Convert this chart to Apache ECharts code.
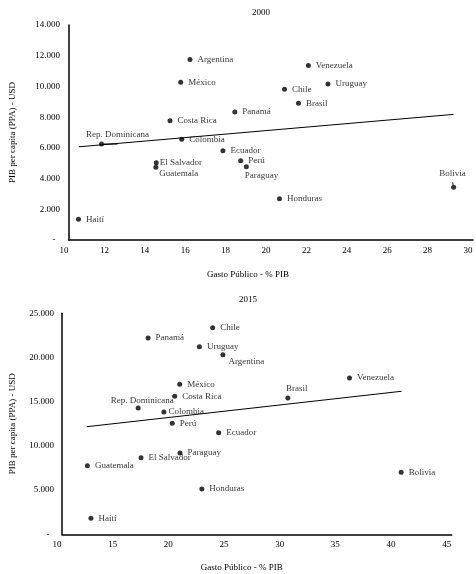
<!DOCTYPE html>
<html><head><meta charset="utf-8">
<script src="https://cdn.jsdelivr.net/npm/echarts@6/dist/echarts.min.js"></script>
<style>html,body{margin:0;padding:0;background:#fff}#c{width:476px;height:574px}</style>
</head><body><div id="c"></div>
<script>
// ---- data ----
const countries2000 = ['Argentina','México','Costa Rica','Rep. Dominicana','Colombia','Ecuador','El Salvador','Guatemala','Haití','Panamá','Perú','Paraguay','Honduras','Chile','Brasil','Venezuela','Uruguay','Bolivia'];
const gasto2000 = [15.99,15.53,15.0,11.61,15.58,17.62,14.32,14.30,10.47,18.21,18.50,18.78,20.42,20.67,21.36,21.85,22.82,29.04];
const pib2000   = [11760,10270,7770,6250,6560,5810,5030,4730,1350,8330,5160,4770,2690,9810,8900,11370,10160,3430];
const trend2000X = [10.49, 29.04];
const trend2000Y = [6070, 8180];

const countries2015 = ['Chile','Panamá','Uruguay','Argentina','México','Costa Rica','Rep. Dominicana','Colombia','Perú','Ecuador','Paraguay','El Salvador','Guatemala','Honduras','Haití','Brasil','Venezuela','Bolivia'];
const gasto2015 = [23.53,17.73,22.34,24.45,20.57,20.12,16.84,19.15,19.90,24.07,20.60,17.10,12.28,22.56,12.60,30.28,35.82,40.46];
const pib2015   = [23370,22200,21220,20320,16970,15610,14290,13830,12560,11490,9200,8670,7760,5120,1810,15420,17680,7010];
const trend2015X = [12.22, 40.5];
const trend2015Y = [12170, 16180];

const xTicks2000 = {min:10, max:30, interval:2};
const yTicks2000 = {min:0, max:14000, interval:2000};
const xTicks2015 = {min:10, max:45, interval:5};
const yTicks2015 = {min:0, max:25000, interval:5000};

// ---- style ----
const FONT = '"Liberation Serif", "DejaVu Serif", serif';
const labelSpec2000 = {
  'Rep. Dominicana': {label:{position:'top', distance:2, offset:[16,0]}, line:true},
  'El Salvador': {label:{position:'right', distance:1}},
  'Guatemala': {label:{position:'right', distance:1, offset:[0,6]}},
  'Paraguay': {label:{position:'right', distance:0, offset:[-4,9]}},
  'Bolivia': {label:{position:'top', distance:7, offset:[-1,0]}, line:true}
};
const labelSpec2015 = {
  'Argentina': {label:{position:'right', distance:3, offset:[0,7]}},
  'Rep. Dominicana': {label:{position:'top', distance:0, offset:[4,0]}},
  'Colombia': {label:{position:'right', distance:2}},
  'Brasil': {label:{position:'top', distance:2, offset:[9,0]}}
};

function buildPoints(names, xs, ys, spec) {
  return names.map((n, i) => {
    const item = {name:n, value:[xs[i], ys[i]]};
    const s = spec[n];
    if (s) {
      item.label = s.label;
      if (s.line) item.labelLine = {show:true, lineStyle:{color:'#000', width:1}};
    }
    return item;
  });
}
function fmtY(v) {
  if (v === 0) return '-  ';
  return String(v).replace(/\B(?=(\d{3})+(?!\d))/g, '.');
}
const txt = {fontFamily:FONT, fontSize:9, color:'#000'};

function xAxis(idx, t, labelMargin, gap, shift) {
  return {
    type:'value', gridIndex:idx, min:t.min, max:t.max, interval:t.interval,
    name:'Gasto Público - % PIB', nameLocation:'middle', nameGap:gap,
    nameTextStyle:Object.assign({}, txt, {padding:[0, shift, 0, 0]}),
    axisLine:{show:true, onZero:false, lineStyle:{color:'#000', width:1.5}},
    axisTick:{show:false}, splitLine:{show:false},
    axisLabel:Object.assign({}, txt, {margin:labelMargin, padding:[0,10,0,0]})
  };
}
function yAxis(idx, t, labelMargin, gap) {
  return {
    type:'value', gridIndex:idx, min:t.min, max:t.max, interval:t.interval,
    name:'PIB per capita (PPA) - USD', nameLocation:'middle', nameGap:gap,
    nameTextStyle:txt,
    axisLine:{show:true, onZero:false, lineStyle:{color:'#000', width:1.5}},
    axisTick:{show:false}, splitLine:{show:false},
    axisLabel:Object.assign({}, txt, {margin:labelMargin, formatter:fmtY})
  };
}
function scatter(idx, data) {
  return {
    type:'scatter', xAxisIndex:idx, yAxisIndex:idx, data:data,
    symbolSize:5, itemStyle:{color:'#000'},
    label:Object.assign({show:true, position:'right', distance:5, formatter:'{b}'}, txt),
    emphasis:{disabled:true}
  };
}
function trend(idx, xs, ys) {
  return {
    type:'line', xAxisIndex:idx, yAxisIndex:idx, data:xs.map((x,i)=>[x, ys[i]]),
    symbol:'none', lineStyle:{color:'#000', width:1}, emphasis:{disabled:true}, z:1
  };
}

const chart = echarts.init(document.getElementById('c'), null, {renderer:'canvas'});
chart.setOption({
  animation:false,
  backgroundColor:'#fff',
  title:[
    {text:'2000', left:256, top:3, textAlign:'center', textStyle:Object.assign({}, txt, {fontWeight:'normal'})},
    {text:'2015', left:243, top:290, textAlign:'center', textStyle:Object.assign({}, txt, {fontWeight:'normal'})}
  ],
  grid:[
    {left:66.7, right:3, top:25, bottom:334},
    {left:58.3, right:24.3, top:313.3, bottom:39.7}
  ],
  xAxis:[ xAxis(0, xTicks2000, 6, 30, 46), xAxis(1, xTicks2015, 6, 29, 30) ],
  yAxis:[ yAxis(0, yTicks2000, 9, 52), yAxis(1, yTicks2015, 8, 45) ],
  series:[
    trend(0, trend2000X, trend2000Y),
    scatter(0, buildPoints(countries2000, gasto2000, pib2000, labelSpec2000)),
    trend(1, trend2015X, trend2015Y),
    scatter(1, buildPoints(countries2015, gasto2015, pib2015, labelSpec2015))
  ]
});
</script>
</body></html>
